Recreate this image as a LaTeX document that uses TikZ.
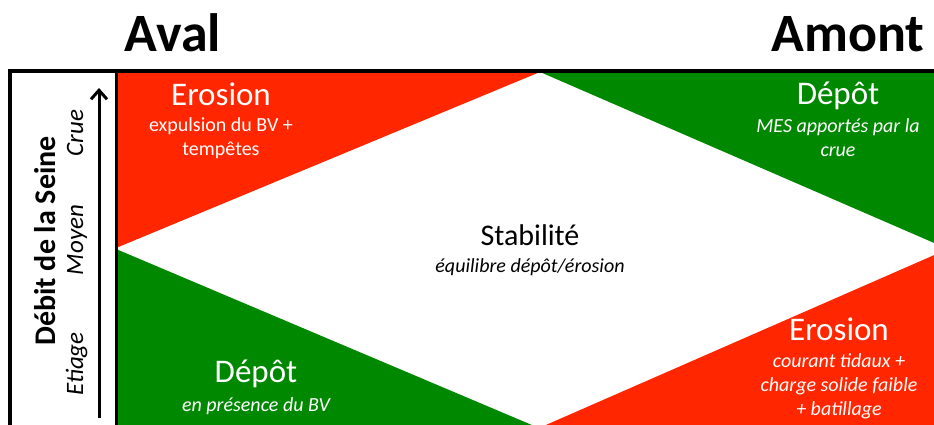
\documentclass[tikz,border=0pt]{standalone}
\usepackage{fontspec}
\setmainfont{Carlito}
\usetikzlibrary{positioning,arrows.meta}
\definecolor{erored}{RGB}{255,38,0}
\definecolor{depgreen}{RGB}{0,137,0}

\begin{document}
\begin{tikzpicture}[
    x=1pt, y=-1pt,
    title/.style={font=\fontsize{54}{54}\selectfont\bfseries, anchor=base, inner sep=0pt},
    head/.style={font=\fontsize{33}{36}\selectfont, text=white, anchor=base, inner sep=0pt},
    sub/.style={font=\fontsize{20}{24}\selectfont, text=white, align=center, inner sep=0pt},
    axis/.style={rotate=90, anchor=base, inner sep=0pt, font=\fontsize{25}{25}\selectfont\itshape},
    frame/.style={line width=3.5pt}
]
    \useasboundingbox (0,0) rectangle (934,425);

    % diamond corners
    \coordinate (top) at (540,72);
    \coordinate (left) at (116,248);
    \coordinate (right) at (948,249);
    \coordinate (bot) at (539,428);

    \begin{scope}
        \clip (0,0) rectangle (934,425);
        \fill[erored] (116,70) -- (top) -- (left) -- cycle;
        \fill[depgreen] (top) -- (960,70) -- (right) -- cycle;
        \fill[depgreen] (116,249) -- (bot) -- (116,440) -- cycle;
        \fill[erored] (right) -- (960,440) -- (bot) -- cycle;

        % frame
        \draw[frame] (10,440) -- (10,71) -- (940,71);
        \draw[line width=3pt] (116,71) -- (116,440);
    \end{scope}

    \node[title] (aval) at (173,52) {Aval};
    \node[title] (amont) at (848,52) {Amont};

    % flow axis
    \node[rotate=90, anchor=base, inner sep=0pt, font=\fontsize{30}{30}\selectfont\bfseries] (debit) at (55,241) {Débit de la Seine};
    \node[axis] (crue) at (83,133) {Crue};
    \node[axis] (moyen) at (83,240) {Moyen};
    \node[axis] (etiage) at (83,364) {Etiage};
    \coordinate (abot) at (99,418);
    \coordinate (atop) at (99,88);
    \draw[-{Straight Barb[length=9pt,width=16pt]}, line width=3pt] (abot) -- (atop);

    % four corners + centre
    \node[head] (tlhead) at (221,106) {Erosion};
    \node[sub, below=11pt of tlhead.base] (tlsub) {expulsion du BV +\\tempêtes};

    \node[head] (trhead) at (838,105) {Dépôt};
    \node[sub, font=\fontsize{20}{24}\selectfont\itshape, below=13pt of trhead.base] (trsub) {MES apportés par la\\crue};

    \node[head, text=black, font=\fontsize{30}{30}\selectfont] (mid) at (530,245) {Stabilité};
    \node[sub, text=black, font=\fontsize{20}{24}\selectfont\itshape, below=13pt of mid.base] (midsub) {équilibre dépôt/érosion};

    \node[head] (blhead) at (256,382) {Dépôt};
    \node[sub, font=\fontsize{20}{24}\selectfont\itshape, below=15pt of blhead.base] (blsub) {en présence du BV};

    \node[head] (brhead) at (839,340) {Erosion};
    \node[sub, font=\fontsize{20}{24}\selectfont\itshape, below=13pt of brhead.base] (brsub) {courant tidaux +\\charge solide faible\\+ batillage};
\end{tikzpicture}
\end{document}
